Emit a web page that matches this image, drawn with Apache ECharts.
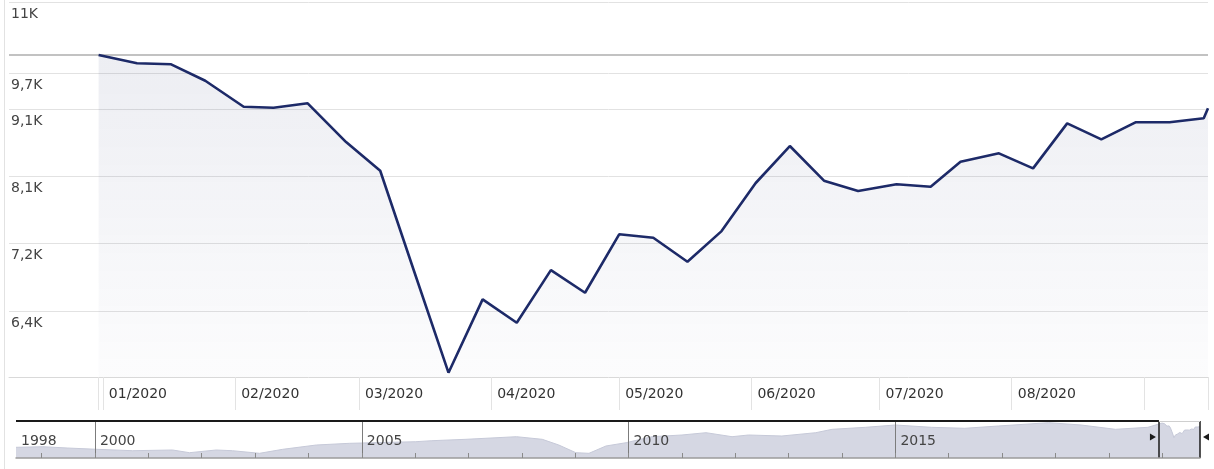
<!DOCTYPE html>
<html><head><meta charset="utf-8">
<script src="https://cdn.jsdelivr.net/npm/echarts@6/dist/echarts.min.js"></script>
<style>html,body{margin:0;padding:0;background:#fff}#c{width:1214px;height:469px}</style>
</head><body><div id="c"></div>
<script>
// ---- main chart data (2020) ----
const mainDates = ['2019-12-31','2020-01-09','2020-01-17','2020-01-25','2020-02-03','2020-02-10','2020-02-18','2020-02-27',
  '2020-03-06','2020-03-14','2020-03-22','2020-03-30','2020-04-07','2020-04-15','2020-04-23','2020-05-01','2020-05-09',
  '2020-05-17','2020-05-25','2020-06-02','2020-06-10','2020-06-18','2020-06-26','2020-07-05','2020-07-13','2020-07-20',
  '2020-07-29','2020-08-06','2020-08-14','2020-08-22','2020-08-30','2020-09-07','2020-09-15','2020-09-16'];
const mainValues = [9997, 9855, 9837, 9560, 9136, 9121, 9191, 8591, 8173, 6851, 5749, 6532, 6271, 6874, 6608, 7316, 7272,
  6974, 7357, 8000, 8532, 8032, 7889, 7982, 7948, 8302, 8424, 8206, 8876, 8632, 8892, 8892, 8954, 9111];

// y grid values and their labels
const yTickValues = [6400, 7200, 8100, 9100, 9690, 10965];
const yTickLabels = ['6,4K', '7,2K', '8,1K', '9,1K', '9,7K', '11K'];
const yMin = 5706, yMax = 10965;

// x axis (months)
const xMin = '2019-12-10', xMax = '2020-09-16';
const monthTicks = ['2020-01-01','2020-02-01','2020-03-01','2020-04-01','2020-05-01','2020-06-01','2020-07-01','2020-08-01','2020-09-01'];
const monthLabels = ['2020-01-01','2020-02-01','2020-03-01','2020-04-01','2020-05-01','2020-06-01','2020-07-01','2020-08-01'];

// ---- navigator (long history) ----
const navMin = '1998-07-10';
const navHistDates = ['1998-07-10','1999-01-10','1999-06-25','2000-01-15','2000-09-15','2001-06-15','2001-10-10','2002-04-10',
  '2002-07-30','2003-02-01','2003-07-10','2004-02-25','2004-10-10','2006-01-05','2006-04-25','2006-12-15','2007-11-25',
  '2008-05-20','2008-09-10','2009-01-05','2009-04-05','2009-07-30','2009-12-15','2010-06-10','2011-01-01','2011-06-15',
  '2011-12-10','2012-04-01','2012-11-15','2013-07-05','2013-10-25','2014-06-10','2015-01-01','2015-09-05','2016-04-20',
  '2016-12-05','2017-11-15','2018-06-25','2019-02-15','2019-09-25'];
const navHistValues = [3066, 3237, 2865, 2493, 2091, 2292, 1518, 2292, 2091, 1347, 2493, 3725, 4212, 4670, 4956, 5358, 6102,
  5358, 3725, 1518, 1347, 3438, 4383, 6102, 6590, 7248, 6102, 6590, 6303, 7248, 8223, 8796, 9455, 8796, 8510,
  9168, 10113, 9455, 8223, 8796];
const navYearTicks = ['1999-01-01','2000-01-01','2001-01-01','2002-01-01','2003-01-01','2004-01-01','2005-01-01','2006-01-01',
  '2007-01-01','2008-01-01','2009-01-01','2010-01-01','2011-01-01','2012-01-01','2013-01-01','2014-01-01','2015-01-01',
  '2016-01-01','2017-01-01','2018-01-01','2019-01-01','2020-01-01'];
const navYearLabels = ['1998-07-10','2000-01-01','2005-01-01','2010-01-01','2015-01-01'];
const navMajorYears = ['2000-01-01','2005-01-01','2010-01-01','2015-01-01'];
const NAV_MAX = 10600;

function ts(s){ const p = s.split('-').map(Number); return new Date(p[0], p[1]-1, p[2]).getTime(); }
const pad2 = n => String(n).padStart(2,'0');

const mainData = mainDates.map((d,i)=>[ts(d), mainValues[i]]);
const navData = navHistDates.map((d,i)=>[ts(d), navHistValues[i]]).concat(mainData);
const winStart = ts(xMin), winEnd = ts(xMax);
const FONT = 'DejaVu Sans';
const BLACK = '#1a1a1a';

const chart = echarts.init(document.getElementById('c'));
chart.setOption({
  animation: false,
  textStyle: {fontFamily: FONT},
  grid: [
    {left: 9, right: 6, top: 2, bottom: 92},
    {left: 16, right: 14, top: 421, bottom: 11}
  ],
  graphic: [{type:'line', shape:{x1:4.5, y1:0, x2:4.5, y2:469}, style:{stroke:'#e2e2e2', lineWidth:1}, silent:true}],
  xAxis: [
    {type:'value', gridIndex:0, min: ts(xMin), max: ts(xMax), scale:true,
     axisLine:{show:true, lineStyle:{color:'#d9d9d9'}},
     axisTick:{show:true, length:33, lineStyle:{color:'#e3e3e3'}, customValues: [ts(mainDates[0])].concat(monthTicks.map(ts)).concat([ts(xMax)])},
     axisLabel:{customValues: monthLabels.map(ts), formatter: v => { const d = new Date(v); return pad2(d.getMonth()+1)+'/'+d.getFullYear(); },
       align:'left', padding:[0,0,0,6], margin:10, fontSize:14, color:'#333', fontFamily: FONT, hideOverlap:false},
     splitLine:{show:false}},
    {type:'value', gridIndex:1, min: ts(navMin), max: ts(xMax), scale:true, z:5,
     axisLine:{show:true, lineStyle:{color:'#9c9c9c', width:1.5}},
     axisTick:{show:true, inside:true, length:5, lineStyle:{color:'#8a8a8a'}, customValues: navYearTicks.map(ts)},
     axisLabel:{inside:true, customValues: navYearLabels.map(ts), formatter: v => String(new Date(v).getFullYear()),
       align:'left', padding:[0,0,0,5], margin:10, fontSize:14, color:'#444', fontFamily: FONT, hideOverlap:false},
     splitLine:{show:false}}
  ],
  yAxis: [
    {type:'log', gridIndex:0, min: yMin, max: yMax, axisLine:{show:false}, axisTick:{show:false}, axisLabel:{show:false}, splitLine:{show:false}},
    {type:'value', gridIndex:1, min:0, max:NAV_MAX, show:false, splitLine:{show:false}}
  ],
  series: [
    {type:'line', xAxisIndex:0, yAxisIndex:0, data: mainData, symbol:'none', showSymbol:false, z:3,
     lineStyle:{color:'#1d2a68', width:2.6},
     areaStyle:{origin:'start', color: new echarts.graphic.LinearGradient(0,0,0,1,[
       {offset:0, color:'rgba(40,52,110,0.12)'}, {offset:1, color:'rgba(40,52,110,0.02)'}])},
     markLine:{silent:true, symbol:'none', z:1, animation:false,
       data: yTickValues.map((v,i)=>({yAxis:v, lineStyle:{color:'#e2e2e2', width:1, type:'solid'},
         label:{show:true, position:'insideStartBottom', formatter: yTickLabels[i], color:'#444', fontSize:14, fontFamily: FONT, distance:[2,5]}}))
         .concat([{yAxis: mainValues[0], lineStyle:{color:'#c2c2c2', width:2, type:'solid'}, label:{show:false}}])}
    },
    {type:'line', xAxisIndex:1, yAxisIndex:1, data: navData, symbol:'none', showSymbol:false, z:2,
     lineStyle:{width:1, color:'#c6c9d8'},
     areaStyle:{origin:'start', color:'#d5d7e3', opacity:1},
     markLine:{silent:true, symbol:'none', animation:false,
       data: navMajorYears.map(d=>({xAxis: ts(d), lineStyle:{color:'#7c7c7c', width:1, type:'solid'}, label:{show:false}}))
         .concat([
           [{coord:[ts(navMin), NAV_MAX], lineStyle:{color:BLACK, width:2, type:'solid'}, label:{show:false}}, {coord:[winStart, NAV_MAX]}],
           [{coord:[winStart, 0], lineStyle:{color:BLACK, width:1.5, type:'solid'}, label:{show:false}}, {coord:[winStart, NAV_MAX]}],
           [{coord:[winEnd, 0], lineStyle:{color:BLACK, width:1.5, type:'solid'}, label:{show:false}}, {coord:[winEnd, NAV_MAX]}],
           [{coord:[winStart, NAV_MAX], lineStyle:{color:'#cfcfcf', width:1, type:'solid'}, label:{show:false}}, {coord:[winEnd, NAV_MAX]}]
         ])},
     markPoint:{silent:true, animation:false, label:{show:false},
       data:[
         {coord:[winStart, 6000], symbol:'triangle', symbolSize:[7,6], symbolRotate:-90, symbolOffset:[-6,0], itemStyle:{color:BLACK}},
         {coord:[winEnd, 6000], symbol:'triangle', symbolSize:[7,6], symbolRotate:90, symbolOffset:[6,0], itemStyle:{color:BLACK}}
       ]}
    }
  ]
});
</script></body></html>
